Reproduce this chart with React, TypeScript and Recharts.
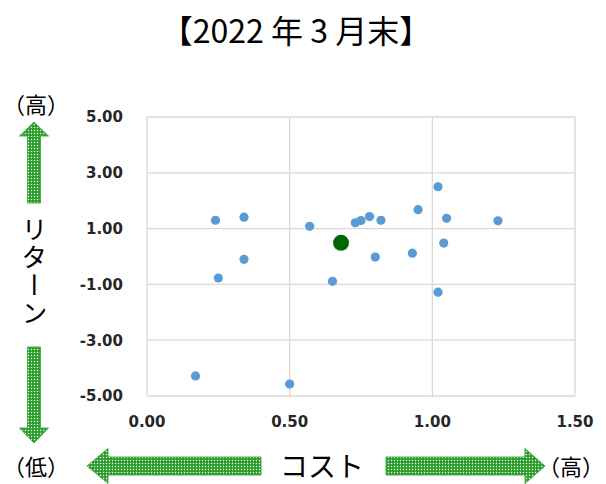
import React from "react"
import {
  ScatterChart,
  Scatter,
  XAxis,
  YAxis,
  CartesianGrid,
} from "recharts"

// cost (x) / return (y) of each fund
const costs = [
  0.17, 0.24, 0.34, 0.34, 0.25, 0.5, 0.57, 0.65, 0.73, 0.75,
  0.78, 0.8, 0.82, 0.93, 0.95, 1.02, 1.05, 1.04, 1.02, 1.23,
]
const returns = [
  -4.28, 1.3, 1.41, -0.1, -0.77, -4.57, 1.08, -0.89, 1.21, 1.29,
  1.43, -0.02, 1.3, 0.12, 1.68, 2.5, 1.37, 0.48, -1.28, 1.28,
]
const highlightCost = [0.68]
const highlightReturn = [0.49]

const xTicks = [0, 0.5, 1, 1.5]
const yTicks = [-5, -3, -1, 1, 3, 5]

const title = "【2022 年 3 月末】"

const funds = costs.map((c, i) => ({ x: c, y: returns[i] }))
const highlight = highlightCost.map((c, i) => ({ x: c, y: highlightReturn[i] }))

const tickStyle = {
  fontSize: 15,
  fontWeight: 700,
  fontFamily: "'DejaVu Sans', sans-serif",
  fill: "#262626",
}

const jp = "'Noto Sans CJK JP', sans-serif"

function hArrow(tipX: number, backX: number, endX: number, cy: number, head: number, shaft: number) {
  return [
    [tipX, cy],
    [backX, cy - head],
    [backX, cy - shaft],
    [endX, cy - shaft],
    [endX, cy + shaft],
    [backX, cy + shaft],
    [backX, cy + head],
  ]
    .map((p) => p.join(","))
    .join(" ")
}

function vArrow(tipY: number, backY: number, endY: number, cx: number, head: number, shaft: number) {
  return [
    [cx, tipY],
    [cx + head, backY],
    [cx + shaft, backY],
    [cx + shaft, endY],
    [cx - shaft, endY],
    [cx - shaft, backY],
    [cx - head, backY],
  ]
    .map((p) => p.join(","))
    .join(" ")
}

function Decorations() {
  return (
    <svg
      width={606}
      height={484}
      style={{ position: "absolute", left: 0, top: 0, pointerEvents: "none" }}
    >
      <defs>
        <pattern id="dots" width={3} height={3} patternUnits="userSpaceOnUse">
          <rect width={3} height={3} fill="#1f961f" />
          <rect x={0.8} y={0.8} width={1.4} height={1.4} fill="#f2fbf2" />
        </pattern>
      </defs>
      <text x={296} y={43} textAnchor="middle" fontSize={32} fontFamily={jp} fill="#000">
        {title}
      </text>
      <text x={36} y={113} textAnchor="middle" fontSize={22} fontFamily={jp} fill="#000">
        （高）
      </text>
      <text x={36} y={475} textAnchor="middle" fontSize={22} fontFamily={jp} fill="#000">
        （低）
      </text>
      <text x={571} y={475} textAnchor="middle" fontSize={22} fontFamily={jp} fill="#000">
        （高）
      </text>
      <text x={322} y={477} textAnchor="middle" fontSize={28} fontFamily={jp} fill="#000">
        コスト
      </text>
      <polygon points={vArrow(122, 136, 203, 34, 14.5, 6.5)} fill="url(#dots)" stroke="#45b045" strokeWidth={1} />
      <polygon points={vArrow(443, 428, 347, 34, 14.5, 6.5)} fill="url(#dots)" stroke="#45b045" strokeWidth={1} />
      <polygon points={hArrow(87, 108, 261, 466, 17.5, 9)} fill="url(#dots)" stroke="#45b045" strokeWidth={1} />
      <polygon points={hArrow(545, 525, 386, 466, 17.5, 9)} fill="url(#dots)" stroke="#45b045" strokeWidth={1} />
    </svg>
  )
}

export default function App() {
  return (
    <div style={{ position: "absolute", left: 0, top: 0, width: 606, height: 484, background: "#fff" }}>
      <ScatterChart
        width={606}
        height={484}
        margin={{ top: 117, right: 31, bottom: 58, left: 0 }}
      >
        <CartesianGrid stroke="#d9d9d9" strokeWidth={1.3} />
        <XAxis
          type="number"
          dataKey="x"
          domain={[0, 1.5]}
          ticks={xTicks}
          tickFormatter={(v: number) => v.toFixed(2)}
          axisLine={false}
          tickLine={false}
          tickSize={0}
          tickMargin={20}
          height={30}
          tick={tickStyle}
          interval={0}
        />
        <YAxis
          type="number"
          dataKey="y"
          domain={[-5, 5]}
          ticks={yTicks}
          tickFormatter={(v: number) => v.toFixed(2)}
          axisLine={false}
          tickLine={false}
          tickSize={0}
          tickMargin={24}
          width={147}
          tick={tickStyle}
          interval={0}
        />
        <Scatter
          data={funds}
          isAnimationActive={false}
          shape={(p: any) => <circle cx={p.cx} cy={p.cy} r={4.6} fill="#5b9bd5" />}
        />
        <Scatter
          data={highlight}
          isAnimationActive={false}
          shape={(p: any) => <circle cx={p.cx} cy={p.cy} r={8} fill="#006600" />}
        />
      </ScatterChart>
      <div
        style={{
          position: "absolute",
          left: 20,
          top: 216,
          width: 28,
          writingMode: "vertical-rl",
          fontFamily: jp,
          fontSize: 26,
          lineHeight: "28px",
          letterSpacing: 2,
          color: "#000",
        }}
      >
        リターン
      </div>
      <Decorations />
    </div>
  )
}
